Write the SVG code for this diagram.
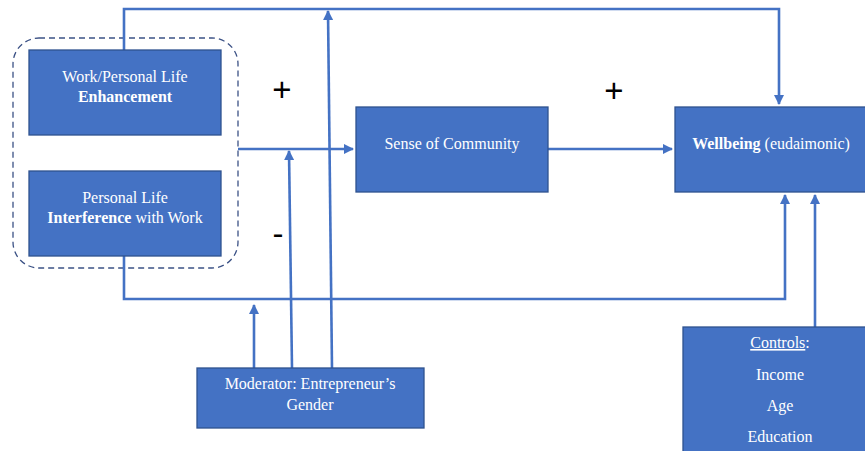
<svg xmlns="http://www.w3.org/2000/svg" width="865" height="451" viewBox="0 0 865 451">
<style>
.box{fill:#4472C4;stroke:#2F528F;stroke-width:1.3}
.t{font-family:"Liberation Serif","Times New Roman",serif;font-size:16px;fill:#ffffff;text-anchor:middle}
.b{font-weight:bold}
.c{fill:none;stroke:#4472C4;stroke-width:2.6}
.s{font-family:"Liberation Sans",Arial,sans-serif;font-size:33px;fill:#000;text-anchor:middle}
</style>
<defs>
<marker id="ah" viewBox="0 0 10 10" refX="9" refY="5" markerWidth="4" markerHeight="4" orient="auto" markerUnits="strokeWidth">
<path d="M0,0 L10,5 L0,10 z" fill="#4472C4"/>
</marker>
</defs>
<rect x="0" y="0" width="865" height="451" fill="#ffffff"/>
<g id="group-dashed">
<rect x="13" y="38" width="225" height="230" rx="26" ry="26" fill="none" stroke="#3B5185" stroke-width="1.3" stroke-dasharray="6,4"/>
</g>
<g id="connectors">
<path class="c" d="M124,50 V9 H779 V104" marker-end="url(#ah)"/>
<path class="c" d="M124,256 V299 H785 V195" marker-end="url(#ah)"/>
<path class="c" d="M238,149 H353" marker-end="url(#ah)"/>
<path class="c" d="M548,149 H672" marker-end="url(#ah)"/>
<path class="c" d="M815,327 V195" marker-end="url(#ah)"/>
<path class="c" d="M254,368 V305" marker-end="url(#ah)"/>
<path class="c" d="M292,368 L289,151" marker-end="url(#ah)"/>
<path class="c" d="M332,368 L328,11" marker-end="url(#ah)"/>
</g>
<g id="node-enhancement">
<rect class="box" x="29" y="50" width="192" height="85"/>
<text class="t" x="125" y="82">Work/Personal Life</text>
<text class="t b" x="125" y="102">Enhancement</text>
</g>
<g id="node-interference">
<rect class="box" x="29" y="171" width="192" height="85"/>
<text class="t" x="125" y="203">Personal Life</text>
<text class="t" x="125" y="223"><tspan class="b">Interference</tspan> with Work</text>
</g>
<g id="node-community">
<rect class="box" x="356" y="107" width="192" height="85"/>
<text class="t" x="452" y="149">Sense of Community</text>
</g>
<g id="node-wellbeing">
<rect class="box" x="675" y="107" width="195" height="85"/>
<text class="t" x="771" y="149"><tspan class="b">Wellbeing</tspan> (eudaimonic)</text>
</g>
<g id="node-moderator">
<rect class="box" x="197" y="368" width="227" height="60"/>
<text class="t" x="310" y="389">Moderator: Entrepreneur’s</text>
<text class="t" x="310" y="410">Gender</text>
</g>
<g id="node-controls">
<rect class="box" x="683" y="327" width="190" height="130"/>
<text class="t" x="780" y="348"><tspan text-decoration="underline">Controls</tspan>:</text>
<text class="t" x="780" y="380">Income</text>
<text class="t" x="780" y="411">Age</text>
<text class="t" x="780" y="442">Education</text>
</g>
<g id="signs">
<text class="s" x="282" y="101">+</text>
<text class="s" x="614" y="102">+</text>
<text class="s" x="278" y="245">-</text>
</g>
</svg>
